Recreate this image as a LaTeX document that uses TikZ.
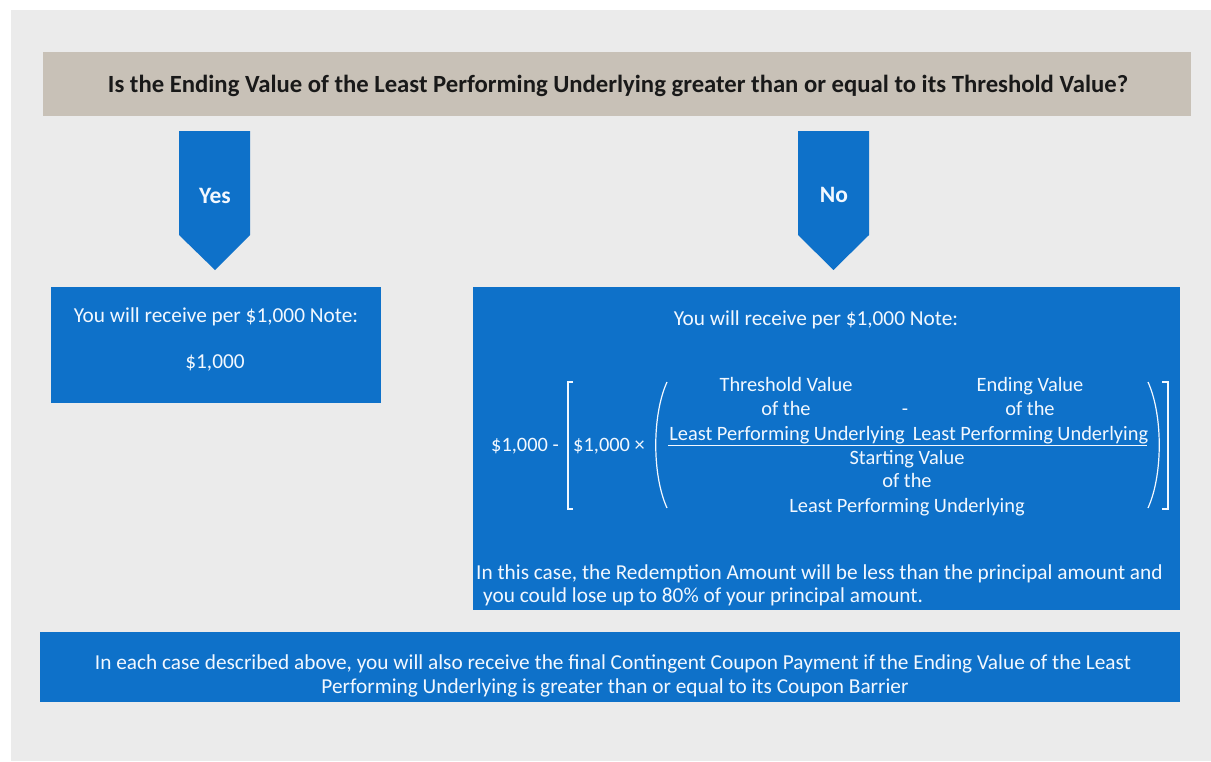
\documentclass[tikz,border=0pt]{standalone}
\usepackage{fontspec}
\setmainfont{Carlito}
\definecolor{bgray}{RGB}{235,235,235}
\definecolor{hdr}{RGB}{200,193,183}
\definecolor{blu}{RGB}{14,113,201}
\definecolor{wtxt}{RGB}{242,248,255}
\definecolor{dtxt}{RGB}{25,25,25}
\begin{document}
\begin{tikzpicture}[x=1pt,y=-1pt,
  bluebox/.style={fill=blu,draw=none},
  wt/.style={text=wtxt,inner sep=0pt,anchor=base,font=\fontsize{21.3}{25}\selectfont},
  ft/.style={wt,font=\fontsize{20.4}{25}\selectfont},
  wl/.style={wt,anchor=base west},
  yn/.style={wt,font=\fontsize{23.5}{27}\selectfont\bfseries},
  brk/.style={draw=wtxt,line width=1.4pt}]
\useasboundingbox (0,0) rectangle (1211,761);
\fill[white] (0,0) rectangle (1211,761);
\fill[bgray] (11,10) rectangle (1211,761);
% header
\fill[hdr] (43,52) rectangle (1191,116);
\node[inner sep=0pt,anchor=base,text=dtxt,font=\fontsize{24.7}{28}\selectfont\bfseries] (q) at (618,92)
  {Is the Ending Value of the Least Performing Underlying greater than or equal to its Threshold Value?};
% arrows
\fill[blu] (179,131) -- (250,131) -- (250,235) -- (215,270) -- (179,235) -- cycle;
\node[yn] (yes) at (215,203) {Yes};
\fill[blu] (798,131) -- (869,131) -- (869,235) -- (833.5,270) -- (798,235) -- cycle;
\node[yn] (no) at (834,202) {No};
% yes box
\fill[bluebox] (51,287) rectangle (381,403);
\node[wt] (y1) at (216,322) {You will receive per \$1,000 Note:};
\node[wt] (y2) at (215,368) {\$1,000};
% no box
\fill[bluebox] (473,287) rectangle (1180,610);
\node[wt] (n1) at (816,325) {You will receive per \$1,000 Note:};
\node[ft] (f1) at (525,451) {\$1,000 -};
\node[ft] (f2) at (609,451) {\$1,000 ×};
\node[ft] (t1) at (786,391) {Threshold Value};
\node[ft] (t2) at (786,415) {of the};
\node[ft] (t3) at (787,440) {Least Performing Underlying};
\node[ft] (mi) at (905,415) {-};
\node[ft] (e1) at (1030,391) {Ending Value};
\node[ft] (e2) at (1030,415) {of the};
\node[ft] (e3) at (1030.5,440) {Least Performing Underlying};
\node[ft] (s1) at (907,464) {Starting Value};
\node[ft] (s2) at (907,487) {of the};
\node[ft] (s3) at (907,512) {Least Performing Underlying};
\draw[draw=wtxt,line width=1pt] (668,445) -- (1147,445);
% brackets
\draw[brk] (573,382) -- (568,382) -- (568,509) -- (573,509);
\draw[brk] (1162,382) -- (1168,382) -- (1168,509) -- (1162,509);
% parens
\draw[brk,line width=1.2pt] (667,382) .. controls (652,415) and (652,475) .. (667,508);
\draw[brk,line width=1.2pt] (1148,382) .. controls (1163,415) and (1163,475) .. (1148,508);
\node[wl] (c1) at (476,579) {In this case, the Redemption Amount will be less than the principal amount and};
\node[wl] (c2) at (483,602) {you could lose up to 80\% of your principal amount.};
% bottom box
\fill[bluebox] (40,632) rectangle (1180,702);
\node[wt] (b1) at (613,669) {In each case described above, you will also receive the final Contingent Coupon Payment if the Ending Value of the Least};
\node[wt] (b2) at (615,693) {Performing Underlying is greater than or equal to its Coupon Barrier};
\end{tikzpicture}
\end{document}
